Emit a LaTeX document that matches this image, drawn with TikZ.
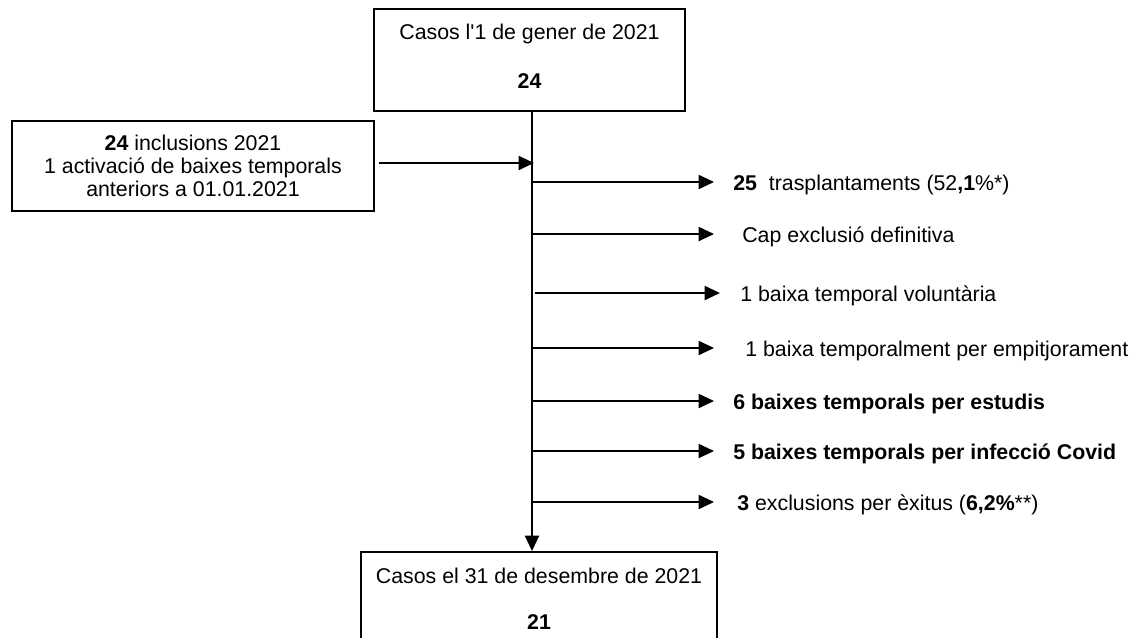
\documentclass[tikz,border=0pt]{standalone}
\usepackage{fontspec}
\setmainfont{Liberation Sans}
\usetikzlibrary{arrows.meta}
\tikzset{
  boxnode/.style={draw, line width=1.4pt, align=center, inner sep=0pt, font=\fontsize{16}{17.5}\selectfont},
  arr/.style={line width=1.4pt, -{Triangle[length=11.5pt,width=10.5pt]}},
  lab/.style={anchor=base west, inner sep=0pt, font=\fontsize{16}{19}\selectfont}
}
\begin{document}
\begin{tikzpicture}[x=0.75pt,y=-0.75pt]
\useasboundingbox (0,0) rectangle (1132,637);
\clip (0,0) rectangle (1132,637);
% boxes
\node[boxnode, minimum width=233.25pt, minimum height=76.5pt] (top) at (529.5,60)
  {Casos l\textquotesingle 1 de gener de 2021\\[19pt]\textbf{24}\\[-11.5pt]\mbox{}};
\node[boxnode, minimum width=271.5pt, minimum height=67.5pt] (left) at (193,166)
  {\textbf{24} inclusions 2021\\1 activació de baixes temporals\\anteriors a 01.01.2021};
\node[boxnode, minimum width=267pt, minimum height=69.75pt] (bot) at (539,598.5)
  {Casos el 31 de desembre de 2021\\[17pt]\textbf{21}};
% main line
\coordinate (mx) at (532,0);
\draw[arr] (top.south -| mx) -- (bot.north -| mx);
% inclusion arrow
\coordinate (inA) at (379,163);
\coordinate (inB) at (534,163);
\draw[arr] (inA) -- (inB);
% branches
\coordinate (b1) at (532,182); \coordinate (t1) at (714,182);
\coordinate (b2) at (532,234); \coordinate (t2) at (714,234);
\coordinate (b3) at (535,293); \coordinate (t3) at (720,293);
\coordinate (b4) at (532,348); \coordinate (t4) at (714,348);
\coordinate (b5) at (532,401); \coordinate (t5) at (714,401);
\coordinate (b6) at (532,451); \coordinate (t6) at (714,451);
\coordinate (b7) at (532,502); \coordinate (t7) at (714,502);
\foreach \i in {1,...,7} \draw[arr] (b\i) -- (t\i);
% labels
\node[lab] (l1) at (733,190) {\textbf{25}\ \ trasplantaments (52\textbf{,1}\%*)};
\node[lab] (l2) at (742,242) {Cap exclusió definitiva};
\node[lab] (l3) at (740,301) {1 baixa temporal voluntària};
\node[lab] (l4) at (745,356) {1 baixa temporalment per empitjorament};
\node[lab] (l5) at (733,409) {\textbf{6 baixes temporals per estudis}};
\node[lab] (l6) at (733,459) {\textbf{5 baixes temporals per infecció Covid}};
\node[lab] (l7) at (737,510) {\textbf{3} exclusions per èxitus (\textbf{6,2\%}**)};
\end{tikzpicture}
\end{document}
